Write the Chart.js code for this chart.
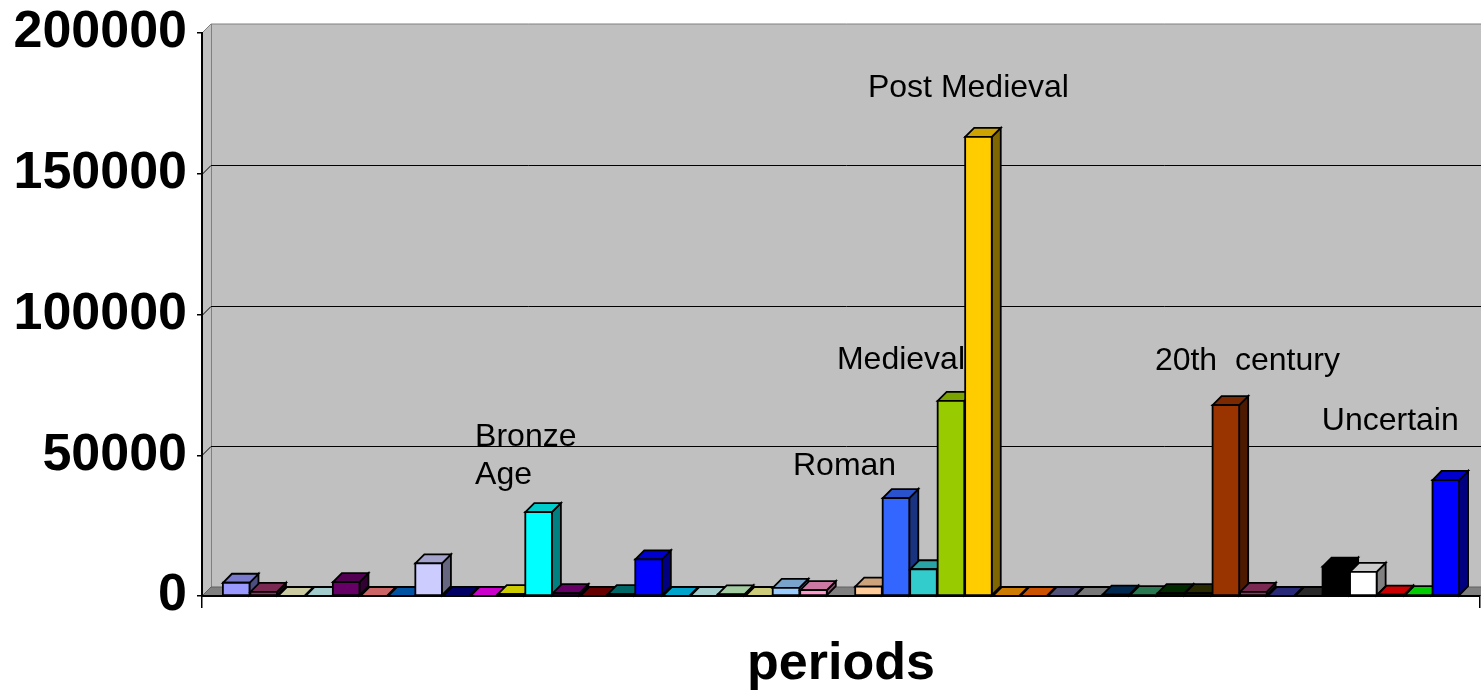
<!DOCTYPE html>
<html>
<head>
<meta charset="utf-8">
<script src="https://cdn.jsdelivr.net/npm/chart.js@4.4.0/dist/chart.umd.min.js"></script>
<style>
html, body { margin: 0; padding: 0; background: #fff; }
</style>
</head>
<body>
<canvas id="chart" width="1481" height="693"></canvas>
<script>
// one category, one series per period (Excel default series colours)
var categories = ['periods'];
var periodValues = [
    4700, 1500, 0, 0, 4900, 0, 0, 11600,
    0, 0, 700, 29800, 1000, 0, 700, 13000,
    0, 0, 600, 0, 2900, 2100, null, 3300,
    34800, 9500, 69300, 163100, 0, 0, 0, 0,
    500, 300, 1000, 1000, 67800, 1500, 0, 0,
    10400, 8600, 500, 300, 41200
];
var periodColors = [
    '#9999FF', '#993366', '#FFFFCC', '#CCFFFF', '#660066', '#FF8080', '#0066CC', '#CCCCFF',
    '#000080', '#FF00FF', '#FFFF00', '#00FFFF', '#800080', '#800000', '#008080', '#0000FF',
    '#00CCFF', '#CCFFFF', '#CCFFCC', '#FFFF99', '#99CCFF', '#FF99CC', '#CC99FF', '#FFCC99',
    '#3366FF', '#33CCCC', '#99CC00', '#FFCC00', '#FF9900', '#FF6600', '#666699', '#969696',
    '#003366', '#339966', '#003300', '#333300', '#993300', '#993366', '#333399', '#333333',
    '#000000', '#FFFFFF', '#FF0000', '#00FF00', '#0000FF'
];
var yTicks = [0, 50000, 100000, 150000, 200000];

// text boxes placed over the chart
var noteTexts = [['Bronze', 'Age'], ['Roman'], ['Medieval'], ['Post Medieval'], ['20th  century'], ['Uncertain']];
var noteBars = [11, 24, 26, 27, 36, 44];
var noteValues = [56500, 46200, 83800, 180400, 83500, 62200];
var noteShift = [-63.5, -103, -114, -110.5, -71, -124];

var DEPTH = 9;

function shade(hex, f) {
    var n = parseInt(hex.slice(1), 16);
    var r = Math.round(((n >> 16) & 255) * f);
    var g = Math.round(((n >> 8) & 255) * f);
    var b = Math.round((n & 255) * f);
    return 'rgb(' + r + ',' + g + ',' + b + ')';
}

function poly(ctx, pts, fill, stroke) {
    ctx.beginPath();
    ctx.moveTo(pts[0][0], pts[0][1]);
    for (let i = 1; i < pts.length; i++) ctx.lineTo(pts[i][0], pts[i][1]);
    ctx.closePath();
    if (fill) { ctx.fillStyle = fill; ctx.fill(); }
    if (stroke) { ctx.strokeStyle = stroke; ctx.stroke(); }
}

// back wall, side wall, floor and wall gridlines
var wallPlugin = {
    id: 'wall3d',
    beforeDraw: function (chart) {
        var ctx = chart.ctx, a = chart.chartArea, ys = chart.scales.y, d = DEPTH;
        ctx.save();
        ctx.fillStyle = '#c0c0c0';
        ctx.fillRect(a.left + d, a.top - d, a.right - a.left, a.bottom - a.top);
        ctx.lineWidth = 1;
        poly(ctx, [[a.left, a.top], [a.left + d, a.top - d], [a.left + d, a.bottom - d], [a.left, a.bottom]], '#c0c0c0', null);
        // wall edges
        ctx.strokeStyle = '#808080';
        ctx.beginPath();
        ctx.moveTo(a.left, a.top);
        ctx.lineTo(a.left + d, a.top - d);
        ctx.lineTo(a.right + d, a.top - d);
        ctx.moveTo(a.left + d + 0.5, a.top - d);
        ctx.lineTo(a.left + d + 0.5, a.bottom - d);
        ctx.stroke();
        // gridlines on the back wall
        ctx.strokeStyle = '#000';
        yTicks.forEach(function (v) {
            if (v <= ys.min || v >= ys.max) return;
            var py = Math.round(ys.getPixelForValue(v)) + 0.5;
            ctx.beginPath();
            ctx.moveTo(a.left, py);
            ctx.lineTo(a.left + d, py - d);
            ctx.lineTo(a.right + d, py - d);
            ctx.stroke();
        });
        // floor
        poly(ctx, [[a.left, a.bottom], [a.left + d, a.bottom - d], [a.right + d, a.bottom - d], [a.right, a.bottom]], '#808080', '#606060');
        ctx.restore();
    }
};

// redraw every column with its top and side faces, left to right
var barPlugin = {
    id: 'bars3d',
    afterDatasetsDraw: function (chart) {
        var ctx = chart.ctx, d = DEPTH;
        ctx.save();
        ctx.lineWidth = 1.8;
        ctx.lineJoin = 'miter';
        chart.data.datasets.forEach(function (ds, i) {
            if (ds.data[0] === null) return;
            var bar = chart.getDatasetMeta(i).data[0];
            if (!bar) return;
            var p = bar.getProps(['x', 'y', 'base', 'width'], true);
            var l = p.x - p.width / 2, r = p.x + p.width / 2;
            var t = Math.min(p.y, p.base), b = p.base;
            var col = periodColors[i];
            poly(ctx, [[r, b], [r + d, b - d], [r + d, t - d], [r, t]], shade(col, 0.5), '#000');
            poly(ctx, [[l, t], [l + d, t - d], [r + d, t - d], [r, t]], shade(col, 0.8), '#000');
            if (b - t > 0.5) poly(ctx, [[l, t], [r, t], [r, b], [l, b]], col, '#000');
        });
        ctx.restore();
    }
};

var notePlugin = {
    id: 'notes',
    afterDraw: function (chart) {
        var ctx = chart.ctx, ys = chart.scales.y;
        ctx.save();
        ctx.font = '32px "Liberation Sans", Arial, sans-serif';
        ctx.fillStyle = '#000';
        ctx.textAlign = 'left';
        ctx.textBaseline = 'middle';
        noteTexts.forEach(function (lines, k) {
            var bar = chart.getDatasetMeta(noteBars[k]).data[0];
            var x = bar.x + noteShift[k];
            var y = ys.getPixelForValue(noteValues[k]);
            lines.forEach(function (s, j) {
                ctx.fillText(s, x, y + j * 38);
            });
        });
        ctx.restore();
    }
};

var datasets = [];
for (let i = 0; i < periodValues.length; i++) {
    datasets.push({
        label: 'Series ' + (i + 1),
        data: [periodValues[i]],
        backgroundColor: periodColors[i],
        borderWidth: 0,
        categoryPercentage: 0.968,
        barPercentage: 0.967
    });
}

var ctx = document.getElementById('chart').getContext('2d');
var myChart = new Chart(ctx, {
    type: 'bar',
    data: { labels: categories, datasets: datasets },
    plugins: [wallPlugin, barPlugin, notePlugin],
    options: {
        responsive: false,
        animation: false,
        devicePixelRatio: 1,
        layout: { padding: { left: 0, top: 33, right: 1, bottom: 0 } },
        plugins: { legend: { display: false }, tooltip: { enabled: false } },
        scales: {
            x: {
                offset: true,
                grid: { offset: true, drawOnChartArea: false, drawTicks: true, tickLength: 12, color: '#000', lineWidth: 1.5 },
                border: { display: true, color: '#000', width: 2 },
                ticks: { color: '#000', padding: 25, font: { family: '"Liberation Sans", Arial, sans-serif', weight: 'bold', size: 52 } },
                afterFit: function (s) { s.height = 97; }
            },
            y: {
                min: 0,
                max: 200000,
                afterBuildTicks: function (s) { s.ticks = yTicks.map(function (v) { return { value: v }; }); },
                ticks: {
                    color: '#000',
                    padding: 10,
                    font: { family: '"Liberation Sans", Arial, sans-serif', weight: 'bold', size: 52, lineHeight: 1 },
                    callback: function (v) { return String(v); }
                },
                grid: { drawOnChartArea: false, drawTicks: true, tickLength: 5, color: '#000', lineWidth: 1.5 },
                border: { display: true, color: '#000', width: 2 },
                afterFit: function (s) { s.width = 202; s.paddingTop = 0; s.paddingBottom = 0; }
            }
        }
    }
});
</script>
</body>
</html>
